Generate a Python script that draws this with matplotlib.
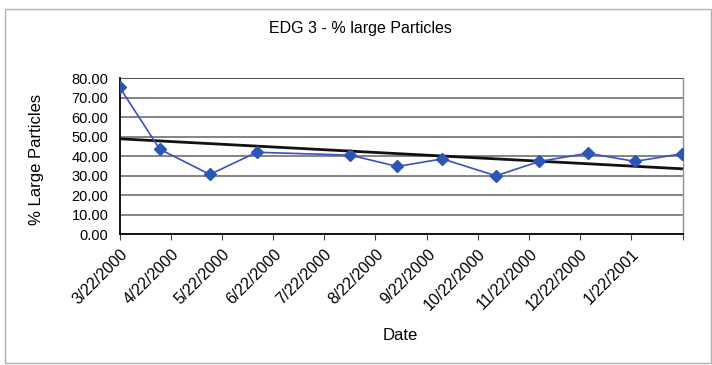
import matplotlib
matplotlib.use("Agg")
import matplotlib.pyplot as plt
import matplotlib.dates as mdates
from matplotlib.patches import Rectangle
import numpy as np
import pandas as pd

plt.rcParams['font.family'] = ['Liberation Sans', 'DejaVu Sans']

# Sample dates and measured percentage of large particles
sample_dates = ["2000-03-22", "2000-04-15", "2000-05-15", "2000-06-12",
                "2000-08-07", "2000-09-04", "2000-10-01", "2000-11-02",
                "2000-11-28", "2000-12-27", "2001-01-24", "2001-02-21"]
pct_large = [75.5, 43.6, 30.6, 42.0, 40.5, 34.7, 38.6, 29.9, 37.3, 41.5, 37.3, 41.2]

tick_dates = ["2000-03-22", "2000-04-22", "2000-05-22", "2000-06-22", "2000-07-22",
              "2000-08-22", "2000-09-22", "2000-10-22", "2000-11-22", "2000-12-22",
              "2001-01-22", "2001-02-22"]
tick_labels = ["3/22/2000", "4/22/2000", "5/22/2000", "6/22/2000", "7/22/2000",
               "8/22/2000", "9/22/2000", "10/22/2000", "11/22/2000", "12/22/2000",
               "1/22/2001", ""]
y_ticks = [0, 10, 20, 30, 40, 50, 60, 70, 80]

dates = pd.to_datetime(sample_dates)
ticks = pd.to_datetime(tick_dates)
xnum = mdates.date2num(dates)
ticknum = mdates.date2num(ticks)

fig = plt.figure(figsize=(7.12, 3.65), dpi=100)
fig.patch.set_facecolor("white")
fig.add_artist(Rectangle((4.5 / 712, 2 / 365), 706 / 712, 354 / 365,
                         transform=fig.transFigure, fill=False,
                         edgecolor="#b0b0b0", linewidth=1.0))

ax = fig.add_axes([119.5 / 712, 1 - 234 / 365, (683.3 - 119.5) / 712, (234 - 78.3) / 365])

# Horizontal gridlines
for v in y_ticks[1:]:
    ax.axhline(v, color="#707070" if v < 80 else "#303030", linewidth=1.2, zorder=1)

# Data series
ax.plot(xnum, pct_large, color="#3a4fc8", linewidth=1.2, marker="D",
        markersize=6, markerfacecolor="#2a56b8", markeredgecolor="#2a56b8", zorder=3)

# Linear trend line across the axis range
coef = np.polyfit(xnum, pct_large, 1)
xt = np.array([ticknum[0], ticknum[-1]])
ax.plot(xt, np.polyval(coef, xt), color="#111111", linewidth=2.0, zorder=2)

ax.set_xlim(ticknum[0], ticknum[-1])
ax.set_ylim(0, 80)
ax.set_yticks(y_ticks)
ax.set_yticklabels([f"{v:.2f}" for v in y_ticks], fontsize=10.5)
ax.set_xticks(ticknum)
ax.set_xticklabels(tick_labels, rotation=45, ha="right", rotation_mode="anchor", fontsize=11.5)
ax.tick_params(axis="x", length=4, width=0.8, pad=5, color="#404040")
ax.tick_params(axis="y", length=0, pad=8)

for side in ["left", "bottom"]:
    ax.spines[side].set_color("#000000")
    ax.spines[side].set_linewidth(1.3)
ax.spines["top"].set_visible(False)
ax.spines["right"].set_color("#909090")
ax.spines["right"].set_linewidth(1.0)

ax.set_ylabel("% Large Particles", fontsize=12, va="center", ha="center")
ax.yaxis.set_label_coords(-0.148, 0.482)
ax.set_xlabel("Date", fontsize=12, va="center", ha="center")
ax.xaxis.set_label_coords(0.4975, -0.649)
fig.text(360 / 712, 1 - 29 / 365, "EDG 3 - % large Particles",
         ha="center", va="center", fontsize=11.5)

fig.savefig("out.png", dpi=100, facecolor="white")
